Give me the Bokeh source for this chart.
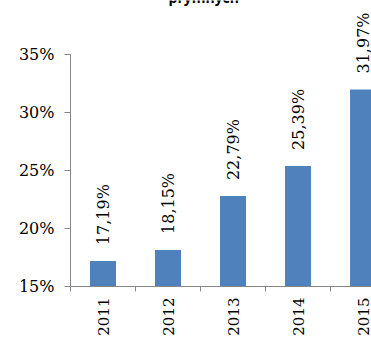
import math
from bokeh.plotting import figure
from bokeh.models import (Range1d, FixedTicker, NumeralTickFormatter,
                          ColumnDataSource, Label)
from bokeh.core.properties import value
from bokeh.embed import file_html
from bokeh.resources import INLINE

years = ["2011", "2012", "2013", "2014", "2015"]
shares = [0.1719, 0.1815, 0.2279, 0.2539, 0.3197]
share_labels = ["17,19%", "18,15%", "22,79%", "25,39%", "31,97%"]
y_ticks = [0.15, 0.20, 0.25, 0.30, 0.35]
title_text = "prymnych"

xs = [i + 0.5 for i in range(len(years))]
src = ColumnDataSource(dict(x=xs, top=shares, lab=share_labels))

BLUE = "#4F81BD"
GRAY = "#868686"
FONT = "DejaVu Serif"

p = figure(width=371, height=338, output_backend="svg", toolbar_location=None,
           x_range=Range1d(0, 4.63), y_range=Range1d(0.15, 0.39635),
           min_border_left=70, min_border_right=0, min_border_top=0,
           min_border_bottom=51)
p.outline_line_color = None
p.xgrid.visible = False
p.ygrid.visible = False

p.vbar(x="x", top="top", bottom=0.15, width=0.4, source=src,
       fill_color=BLUE, line_color=None)

p.text(x="x", y="top", text="lab", source=src, angle=math.pi / 2,
       text_align="left", text_baseline="middle", y_offset=-16,
       text_font=value(FONT), text_font_size="16px", text_color="#000000")

# y axis
ya = p.yaxis[0]
ya.ticker = FixedTicker(ticks=y_ticks)
ya.bounds = (0.15, 0.35)
ya.formatter = NumeralTickFormatter(format="0%")
ya.axis_line_color = GRAY
ya.major_tick_line_color = GRAY
ya.major_tick_out = 6
ya.major_tick_in = 0
ya.minor_tick_line_color = None
ya.major_label_standoff = 10
ya.major_label_text_font = FONT
ya.major_label_text_font_size = "16px"
ya.major_label_text_color = "#000000"

# x axis: labels at centers, boundary ticks as minor ticks
xa = p.xaxis[0]
xa.ticker = FixedTicker(ticks=xs, minor_ticks=list(range(len(years) + 1)))
xa.major_label_overrides = {x: y for x, y in zip(xs, years)}
xa.axis_line_color = GRAY
xa.major_tick_line_color = None
xa.major_tick_out = 0
xa.major_tick_in = 0
xa.minor_tick_line_color = GRAY
xa.minor_tick_out = 5
xa.minor_tick_in = 0
xa.major_label_orientation = math.pi / 2
xa.major_label_standoff = 6
xa.major_label_text_font = FONT
xa.major_label_text_font_size = "15px"
xa.major_label_text_color = "#000000"

p.add_layout(Label(x=2.05, y=0.3987, text=title_text, text_align="center",
                   text_baseline="alphabetic", text_font="Open Sans",
                   text_font_style="bold", text_font_size="14px",
                   text_color="#000000"))

open("out.html", "w").write(file_html(p, INLINE))
